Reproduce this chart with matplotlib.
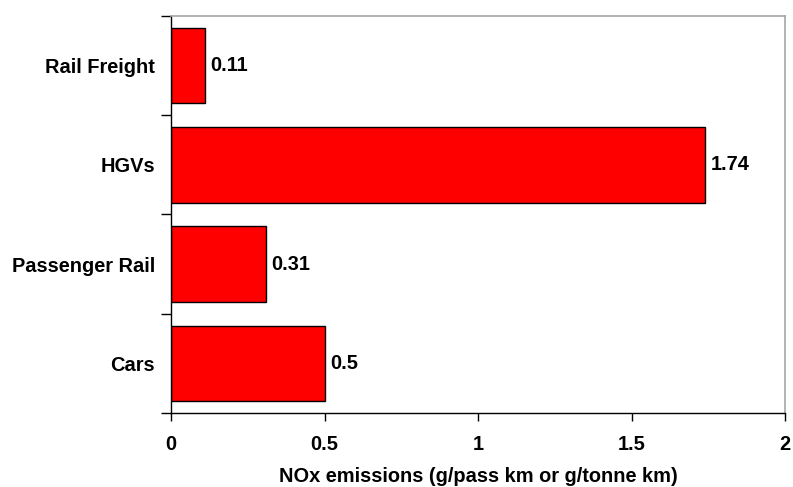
import matplotlib
matplotlib.use("Agg")
import matplotlib.pyplot as plt
from matplotlib.ticker import FixedLocator

categories = ["Cars", "Passenger Rail", "HGVs", "Rail Freight"]
nox_values = [0.5, 0.31, 1.74, 0.11]
x_ticks = [0, 0.5, 1, 1.5, 2]
x_tick_labels = ["0", "0.5", "1", "1.5", "2"]
x_label = "NOx emissions (g/pass km or g/tonne km)"

plt.rcParams["font.family"] = ["Liberation Sans", "DejaVu Sans"]
plt.rcParams["font.weight"] = "bold"

FS = 14.4

fig = plt.figure(figsize=(7.93, 4.87), dpi=100)
ax = fig.add_axes([171 / 793, 1 - 413 / 487, 614 / 793, 397 / 487])

ypos = list(range(len(categories)))
ax.barh(ypos, nox_values, height=0.76, color="#ff0000",
        edgecolor="black", linewidth=1)

for y, v in zip(ypos, nox_values):
    ax.text(v + 0.018, y, f"{v:g}", va="center", ha="left",
            fontsize=FS, fontweight="bold")

ax.set_xlim(0, 2)
ax.set_ylim(-0.5, len(categories) - 0.5)
ax.set_xticks(x_ticks)
ax.set_xticklabels(x_tick_labels, fontsize=FS, fontweight="bold")
ax.set_yticks(ypos)
ax.set_yticklabels(categories, fontsize=FS, fontweight="bold")
ax.tick_params(axis="y", which="major", length=0, pad=11.5)
ax.yaxis.set_minor_locator(FixedLocator([y - 0.5 for y in range(len(categories) + 1)]))
ax.tick_params(axis="y", which="minor", length=7, width=1, color="black")
ax.tick_params(axis="x", length=6, width=1, color="black", pad=9.5)

ax.set_xlabel(x_label, fontsize=FS, fontweight="bold", labelpad=10)

for side in ("top", "right"):
    ax.spines[side].set_color("#a6a6a6")
    ax.spines[side].set_linewidth(1.2)
for side in ("left", "bottom"):
    ax.spines[side].set_color("black")
    ax.spines[side].set_linewidth(1)

fig.savefig("out.png", dpi=100)
